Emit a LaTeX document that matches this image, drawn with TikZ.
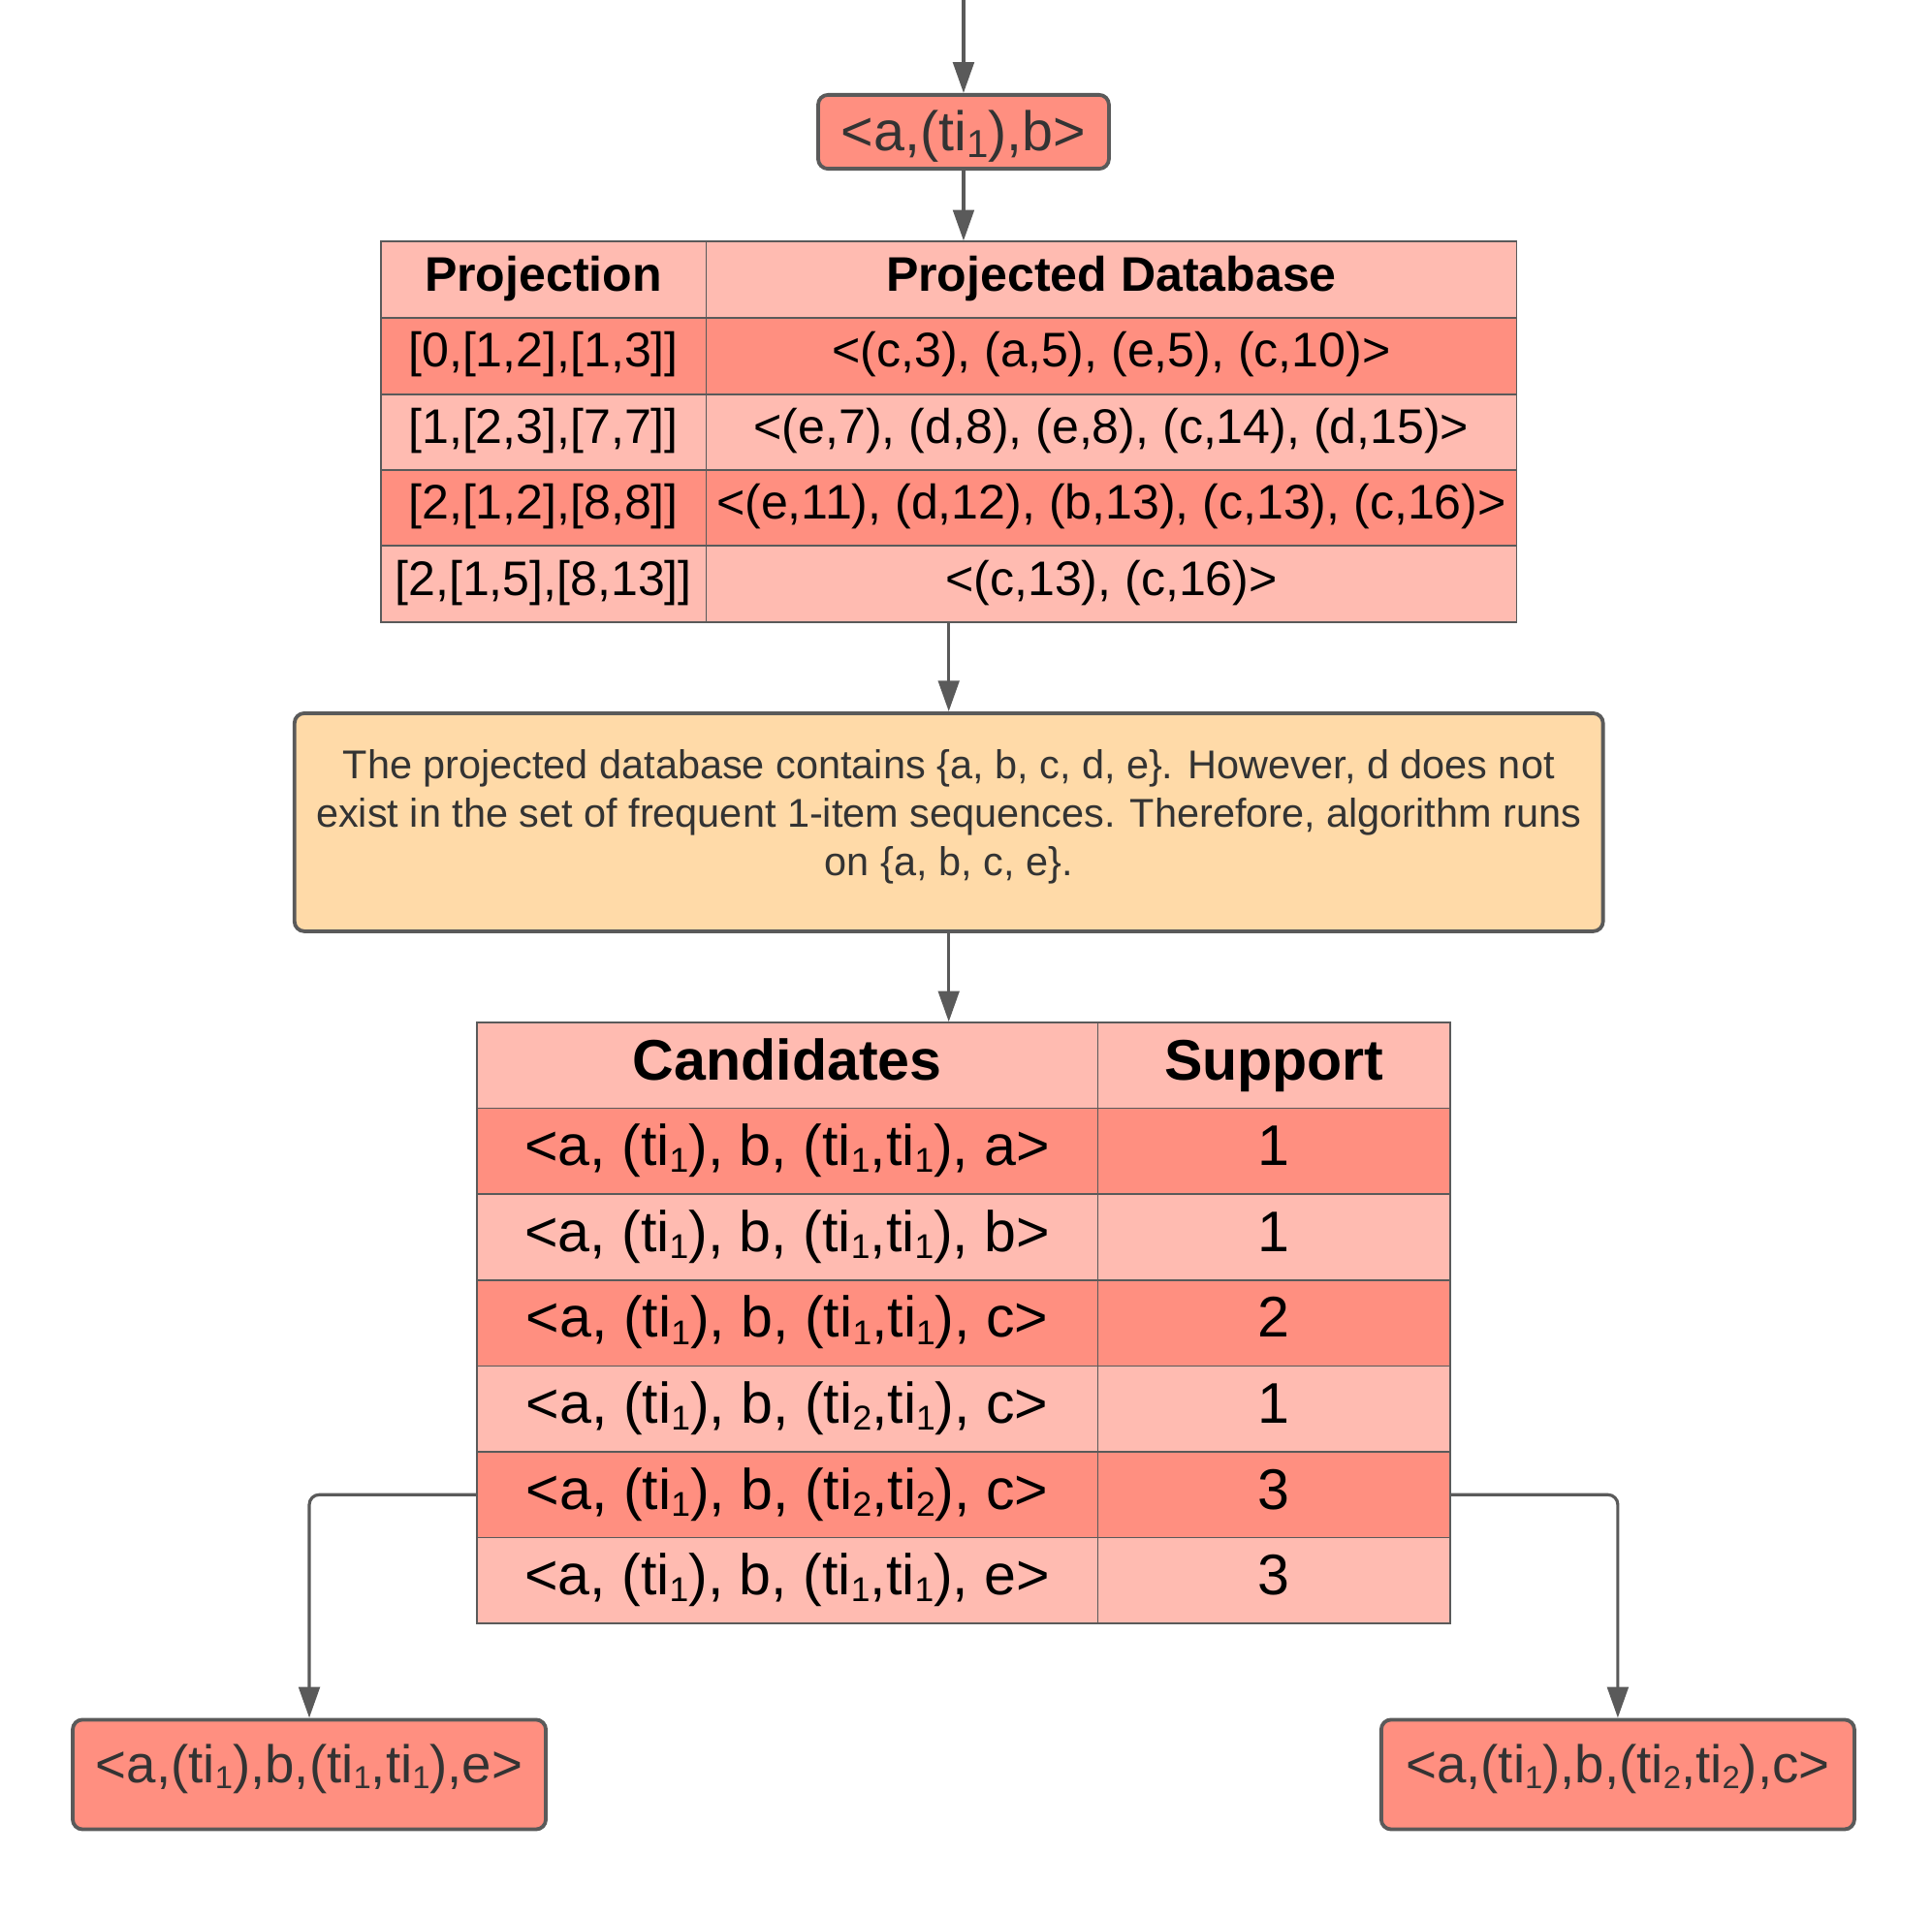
\documentclass[tikz,border=0pt]{standalone}
\usepackage{fontspec}
\setmainfont{Liberation Sans}
\usetikzlibrary{arrows.meta}

\definecolor{salmon}{HTML}{FF8F80}
\definecolor{pinklight}{HTML}{FFBBB1}
\definecolor{peach}{HTML}{FFDAA8}
\definecolor{edgegray}{HTML}{5A5A5A}
\definecolor{ink}{HTML}{333333}
\newcommand{\tisub}[2][0.6]{ti\raisebox{-0.12em}{\scalebox{#1}{#2}}}

\begin{document}
\begin{tikzpicture}[x=1pt,y=-1pt,
    seqbox/.style={draw=edgegray,line width=3pt,fill=salmon,rounded corners=8pt,text=ink,inner sep=0pt},
    projcell/.style={draw=edgegray,line width=1.2pt,inner sep=0pt,minimum height=62,
      text height=29pt,text depth=10.8pt,font=\fontsize{39.4}{47}\selectfont},
    candcell/.style={draw=edgegray,line width=1.2pt,inner sep=0pt,minimum height=69.7,
      text height=34pt,text depth=10.6pt,font=\fontsize{46.5}{55}\selectfont},
    flow/.style={-{Triangle[length=25pt,width=17pt]},draw=edgegray,line width=2.5pt}]
                    \useasboundingbox (0,0) rectangle (1568,1556);

                    \coordinate (src) at (782,0);
                    \node[seqbox,minimum width=236,minimum height=60,text height=36pt,text depth=5.8pt,
                      font=\fontsize{45.2}{54}\selectfont] at (782,107) (b1) {<a,(\tisub[0.7]{1}),b>};

                    % projected database table
                    \node[projcell,fill=pinklight,minimum width=264] at (441,227) (p0) {\bfseries Projection};
                    \node[projcell,fill=pinklight,minimum width=658] at (902,227) (d0) {\bfseries Projected Database};
                    \node[projcell,fill=salmon,minimum width=264] at (441,289) (p1) {[0,[1,2],[1,3]]};
                    \node[projcell,fill=salmon,minimum width=658] at (902,289) (d1) {<(c,3), (a,5), (e,5), (c,10)>};
                    \node[projcell,fill=pinklight,minimum width=264] at (441,351) (p2) {[1,[2,3],[7,7]]};
                    \node[projcell,fill=pinklight,minimum width=658] at (902,351) (d2) {<(e,7), (d,8), (e,8), (c,14), (d,15)>};
                    \node[projcell,fill=salmon,minimum width=264] at (441,412.5) (p3) {[2,[1,2],[8,8]]};
                    \node[projcell,fill=salmon,minimum width=658] at (902,412.5) (d3) {<(e,11), (d,12), (b,13), (c,13), (c,16)>};
                    \node[projcell,fill=pinklight,minimum width=264] at (441,474) (p4) {[2,[1,5],[8,13]]};
                    \node[projcell,fill=pinklight,minimum width=658] at (902,474) (d4) {<(c,13), (c,16)>};

                    \node[draw=edgegray,line width=3pt,fill=peach,rounded corners=8pt,text=ink,
                      minimum width=1062,minimum height=177,align=center,
                      font=\fontsize{32.6}{39.5}\selectfont] at (770,667.5) (note)
                      {The projected database contains \{a, b, c, d, e\}. However, d does not\\
                       exist in the set of frequent 1-item sequences. Therefore, algorithm runs\\
                       on \{a, b, c, e\}.\rule[-16pt]{0pt}{0pt}};

                    % candidates table
                    \node[candcell,fill=pinklight,minimum width=504] at (639,864.9) (c0) {\bfseries Candidates};
                    \node[candcell,fill=pinklight,minimum width=286] at (1034,864.9) (s0) {\bfseries Support};
                    \node[candcell,fill=salmon,minimum width=504] at (639,934.6) (c1) {<a, (\tisub{1}), b, (\tisub{1},\tisub{1}), a>};
                    \node[candcell,fill=salmon,minimum width=286] at (1034,934.6) (s1) {1};
                    \node[candcell,fill=pinklight,minimum width=504] at (639,1004.3) (c2) {<a, (\tisub{1}), b, (\tisub{1},\tisub{1}), b>};
                    \node[candcell,fill=pinklight,minimum width=286] at (1034,1004.3) (s2) {1};
                    \node[candcell,fill=salmon,minimum width=504] at (639,1074) (c3) {<a, (\tisub{1}), b, (\tisub{1},\tisub{1}), c>};
                    \node[candcell,fill=salmon,minimum width=286] at (1034,1074) (s3) {2};
                    \node[candcell,fill=pinklight,minimum width=504] at (639,1143.7) (c4) {<a, (\tisub{1}), b, (\tisub{2},\tisub{1}), c>};
                    \node[candcell,fill=pinklight,minimum width=286] at (1034,1143.7) (s4) {1};
                    \node[candcell,fill=salmon,minimum width=504] at (639,1213.4) (c5) {<a, (\tisub{1}), b, (\tisub{2},\tisub{2}), c>};
                    \node[candcell,fill=salmon,minimum width=286] at (1034,1213.4) (s5) {3};
                    \node[candcell,fill=pinklight,minimum width=504] at (639,1283.1) (c6) {<a, (\tisub{1}), b, (\tisub{1},\tisub{1}), e>};
                    \node[candcell,fill=pinklight,minimum width=286] at (1034,1283.1) (s6) {3};

                    \node[seqbox,minimum width=384,minimum height=89,text height=30pt,text depth=17.2pt,
                      font=\fontsize{43}{51}\selectfont] at (251,1440.5) (bl) {<a,(\tisub{1}),b,(\tisub{1},\tisub{1}),e>};
                    \node[seqbox,minimum width=384,minimum height=89,text height=30pt,text depth=17.2pt,
                      font=\fontsize{43}{51}\selectfont] at (1313,1440.5) (br) {<a,(\tisub{1}),b,(\tisub{2},\tisub{2}),c>};

                    \draw[flow] (src) -- (b1.north);
                    \draw[flow] (b1.south) -- (b1.south |- d0.north);
                    \draw[flow] (note.north |- d4.south) -- (note.north);
                    \draw[flow] (note.south) -- (note.south |- c0.north);
                    \draw[flow,rounded corners=8pt] (c5.west) -| (bl.north);
                    \draw[flow,rounded corners=8pt] (s5.east) -| (br.north);
                \end{tikzpicture}
\end{document}
